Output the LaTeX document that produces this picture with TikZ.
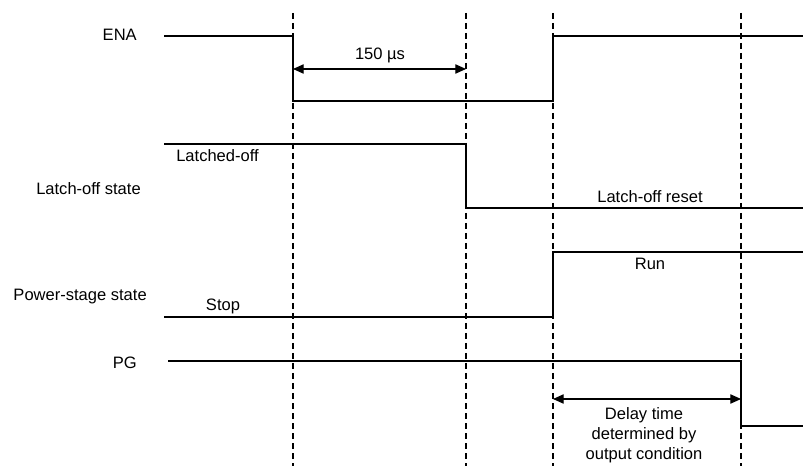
\documentclass[tikz,border=0pt]{standalone}
\usepackage{fontspec}
\setmainfont{Liberation Sans}
\usetikzlibrary{arrows.meta}

\tikzset{
  wave/.style={line width=0.8pt},
  marker/.style={line width=0.8pt,dash pattern={on 4.5pt off 3pt}},
  span/.style={line width=0.8pt,{Triangle[length=8pt,width=7pt]}-{Triangle[length=8pt,width=7pt]}},
  lbl/.style={inner sep=0pt,font=\fontsize{12.4}{15}\selectfont}
}

\begin{document}
\begin{tikzpicture}[x=0.75pt,y=0.75pt,yscale=-1,xscale=1]
\useasboundingbox (0,0) rectangle (803,466);

%Dashed markers
\foreach \t/\xx in {t1/293,t2/466,t3/553,t4/741} {
  \coordinate (\t top) at (\xx,13);
  \coordinate (\t bot) at (\xx,466);
  \draw [marker] (\t top) -- (\t bot);
}

%Straight Lines ENA
\draw [wave] (164,36) -- (293,36) -- (293,101) -- (553,101) -- (553,36) -- (803,36);
%Straight Lines latch-off
\draw [wave] (164,144) -- (466,144) -- (466,208) -- (803,208);
%Straight Lines power stage
\draw [wave] (164,317) -- (553,317) -- (553,252) -- (803,252);
%Straight Lines PG
\draw [wave] (168,361) -- (741,361) -- (741,426) -- (803,426);

%Dimension arrows
\coordinate (a1) at (293,69);
\coordinate (a2) at (466,69);
\draw [span] (a1) -- (a2);
\coordinate (d1) at (553,399);
\coordinate (d2) at (741,399);
\draw [span] (d1) -- (d2);

% Text Node
\node (ena) [lbl,anchor=base east] at (137,41) {ENA};
% Text Node
\node (latchstate) [lbl,anchor=base east] at (141,195) {Latch-off state};
% Text Node
\node (pwrstate) [lbl,anchor=base east] at (147,301) {Power-stage state};
% Text Node
\node (pg) [lbl,anchor=base east] at (137,369) {PG};
% Text Node
\node (t150) [lbl,anchor=base] at (380,60) {150 µs};
% Text Node
\node (latched) [lbl,anchor=base west] at (176,162) {Latched-off};
% Text Node
\node (reset) [lbl,anchor=base] at (650,203) {Latch-off reset};
% Text Node
\node (stop) [lbl,anchor=base] at (223,311) {Stop};
% Text Node
\node (run) [lbl,anchor=base] at (650,270) {Run};
% Text Node
\node (delay) [lbl,anchor=north,align=center] at (644,407) {Delay time\\determined by\\output condition};

\end{tikzpicture}
\end{document}
